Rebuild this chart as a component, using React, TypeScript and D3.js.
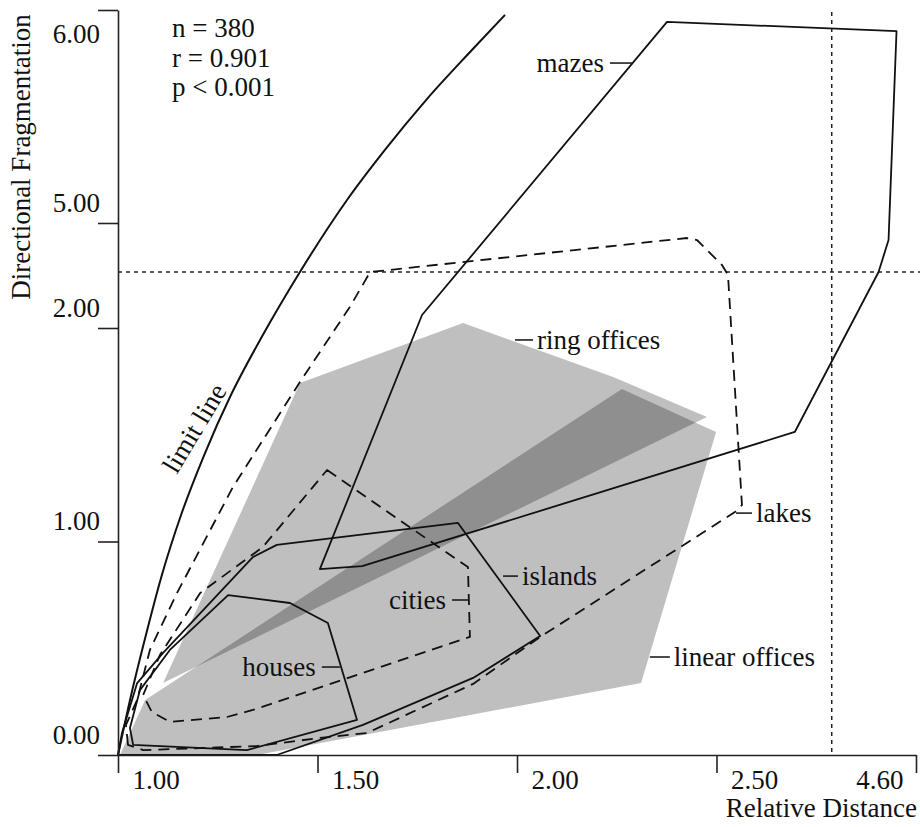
import React, { useEffect, useRef } from "react";
import * as d3 from "d3";

// broken axes: the tick values sit at even spacing on screen
const xTicks = [1.0, 1.5, 2.0, 2.5, 4.6];
const yTicks = [0, 1, 2, 5, 6];
const xTickLabels = ["1.00", "1.50", "2.00", "2.50", "4.60"];
const yTickLabels = ["0.00", "1.00", "2.00", "5.00", "6.00"];

const limitLine = [
  [1.0, 0.0], [1.033, 0.281], [1.07, 0.562], [1.11, 0.843], [1.158, 1.124],
  [1.216, 1.405], [1.283, 1.686], [1.363, 1.967], [1.456, 3.6], [1.574, 5.108],
  [1.669, 5.343], [1.772, 5.577], [1.887, 5.812], [1.97, 5.977],
];

const mazes = [
  [2.376, 5.944], [4.395, 5.901], [4.311, 4.514], [4.206, 3.6], [3.324, 1.513],
  [1.612, 0.885], [1.506, 0.871], [1.762, 2.371],
];

const lakes = [
  [1.025, 0.047], [1.02, 0.141], [1.048, 0.258], [1.08, 0.492], [1.148, 0.759],
  [1.288, 1.255], [1.456, 1.747], [1.581, 2.6], [1.632, 3.6], [2.426, 4.571],
  [2.451, 4.514], [2.558, 3.8], [2.621, 3.514], [2.768, 1.171], [2.694, 1.138],
  [2.058, 0.553], [1.89, 0.333], [1.624, 0.103], [1.506, 0.08], [1.348, 0.042],
  [1.063, 0.023],
];

const cities = [
  [1.524, 1.335], [1.84, 0.927], [1.877, 0.881], [1.882, 0.553], [1.338, 0.211],
  [1.273, 0.178], [1.13, 0.155], [1.085, 0.201], [1.063, 0.281], [1.105, 0.468],
  [1.206, 0.759], [1.363, 0.974],
];

const islands = [
  [1.0, 0.0], [1.01, 0.103], [1.048, 0.337], [1.113, 0.478], [1.338, 0.927],
  [1.398, 0.984], [1.852, 1.087], [2.058, 0.557], [1.89, 0.361], [1.614, 0.141],
  [1.398, 0.0],
];

const houses = [
  [1.038, 0.047], [1.03, 0.126], [1.055, 0.304], [1.13, 0.492], [1.276, 0.749],
  [1.431, 0.712], [1.526, 0.618], [1.599, 0.164], [1.323, 0.023],
];

const ringOffices = [
  [1.113, 0.337], [1.456, 1.742], [1.865, 2.143], [2.241, 1.77], [2.476, 1.583],
];

const linearOffices = [
  [1.005, 0.0], [1.068, 0.258], [2.263, 1.714], [2.499, 1.513], [2.311, 0.337],
  [1.348, 0.0],
];

const cutX = 3.713;
const cutY = 3.6;

const stats = ["n = 380", "r = 0.901", "p < 0.001"];

// leader start (data), leader length in px (negative = to the left)
const labels = [
  { name: "mazes", at: [2.288, 5.751], len: -22 },
  { name: "ring offices", at: [1.995, 1.944], len: 18 },
  { name: "lakes", at: [2.705, 1.133], len: 16 },
  { name: "islands", at: [1.965, 0.838], len: 15 },
  { name: "linear offices", at: [2.333, 0.459], len: 20 },
  { name: "cities", at: [1.877, 0.726], len: -16 },
  { name: "houses", at: [1.556, 0.412], len: -18 },
];

const W = 920;
const H = 827;
const FONT = "'Liberation Serif', 'Times New Roman', serif";

export default function App() {
  const ref = useRef<SVGSVGElement>(null);

  useEffect(() => {
    const svg = d3.select(ref.current);
    svg.selectAll("*").remove();

    const x = d3.scaleLinear().domain(xTicks).range([118, 317.5, 517, 716.5, 916]);
    const y = d3.scaleLinear().domain(yTicks).range([755, 541.5, 328, 223, 10]);

    const poly = (pts: number[][]) =>
      "M" + pts.map((p) => x(p[0]) + "," + y(p[1])).join("L") + "Z";

    // grey office areas, overlap comes out darker
    [ringOffices, linearOffices].forEach((pts) => {
      svg.append("path").attr("d", poly(pts)).attr("fill", "#000").attr("fill-opacity", 0.25);
    });

    // reference cut lines
    svg.append("line")
      .attr("x1", x(cutX)).attr("x2", x(cutX)).attr("y1", y(6) + 2).attr("y2", y(0))
      .attr("stroke", "#222").attr("stroke-width", 1.5).attr("stroke-dasharray", "4,4");
    svg.append("line")
      .attr("x1", x(1)).attr("x2", W).attr("y1", y(cutY)).attr("y2", y(cutY))
      .attr("stroke", "#222").attr("stroke-width", 1.5).attr("stroke-dasharray", "4,4");

    const outline = (pts: number[][], dashed: boolean) => {
      svg.append("path").attr("d", poly(pts))
        .attr("fill", "none").attr("stroke", "#111").attr("stroke-width", 1.8)
        .attr("stroke-linejoin", "round")
        .attr("stroke-dasharray", dashed ? "11,7" : null);
    };
    outline(lakes, true);
    outline(cities, true);
    outline(mazes, false);
    outline(islands, false);
    outline(houses, false);

    const line = d3.line<number[]>()
      .x((d) => x(d[0])).y((d) => y(d[1]))
      .curve(d3.curveMonotoneX);
    svg.append("path").attr("d", line(limitLine))
      .attr("fill", "none").attr("stroke", "#111").attr("stroke-width", 2);

    // axes
    const gx = svg.append("g").attr("transform", "translate(0," + y(0) + ")")
      .call(d3.axisBottom(x).tickValues(xTicks).tickSize(18).tickSizeOuter(0)
        .tickFormat((d, i) => xTickLabels[i]));
    gx.selectAll("text")
      .attr("y", 25).attr("dy", "0.35em")
      .attr("x", (d, i) => (i === xTicks.length - 1 ? -13 : 14))
      .attr("text-anchor", (d, i) => (i === xTicks.length - 1 ? "end" : "start"));

    const gy = svg.append("g").attr("transform", "translate(" + x(1) + ",0)")
      .call(d3.axisLeft(y).tickValues(yTicks).tickSize(20).tickSizeOuter(0)
        .tickFormat((d, i) => yTickLabels[i]));
    gy.selectAll("text")
      .attr("x", -18).attr("dy", "0.35em")
      .attr("y", (d, i) => (i === yTicks.length - 1 ? 23 : -21));

    [gx, gy].forEach((g) => {
      g.attr("font-family", FONT).attr("font-size", 27);
      g.selectAll("text").attr("fill", "#111");
      g.selectAll("line, path").attr("stroke", "#222").attr("stroke-width", 1.6);
    });

    svg.append("text")
      .attr("transform", "translate(30,157) rotate(-90)")
      .attr("text-anchor", "middle")
      .text("Directional Fragmentation");
    svg.append("text")
      .attr("x", 917).attr("y", 817).attr("text-anchor", "end")
      .text("Relative Distance");

    svg.selectAll("text.stat").data(stats).enter().append("text")
      .attr("class", "stat")
      .attr("x", 172).attr("y", (d, i) => 28 + i * 29.5).attr("dy", "0.35em")
      .text((d) => d);

    // labels with short leader lines
    labels.forEach((l) => {
      const x0 = x(l.at[0]);
      const y0 = y(l.at[1]);
      svg.append("line")
        .attr("x1", x0).attr("x2", x0 + l.len).attr("y1", y0).attr("y2", y0)
        .attr("stroke", "#111").attr("stroke-width", 1.5);
      const right = l.len > 0;
      svg.append("text")
        .attr("x", x0 + l.len + (right ? 4 : -6))
        .attr("y", y0).attr("dy", "0.33em")
        .attr("text-anchor", right ? "start" : "end")
        .text(l.name);
    });

    svg.append("text")
      .attr("transform", "translate(194,428) rotate(-59)")
      .attr("text-anchor", "middle").attr("dy", "0.35em")
      .text("limit line");

    svg.selectAll("text").attr("font-family", FONT).attr("font-size", 27).attr("fill", "#111");
  }, []);

  return (
    <div style={{ position: "absolute", left: 0, top: 0, background: "#fff" }}>
      <svg ref={ref} width={W} height={H} />
    </div>
  );
}
